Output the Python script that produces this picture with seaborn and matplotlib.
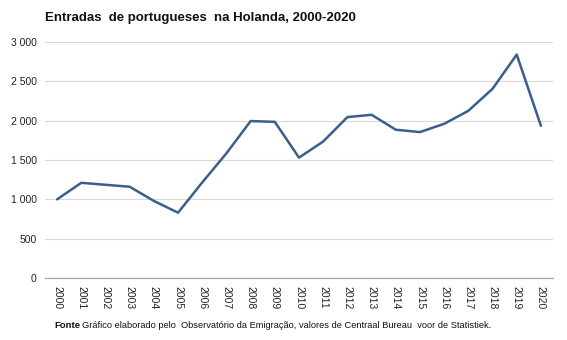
import matplotlib
matplotlib.use("Agg")
import matplotlib.pyplot as plt
import seaborn as sns
import pandas as pd

years = list(range(2000, 2021))
entradas = [1000, 1210, 1185, 1160, 980, 830, 1215, 1585, 1995, 1985, 1530,
            1735, 2045, 2075, 1885, 1855, 1960, 2125, 2405, 2840, 1935]
title = "Entradas  de portugueses  na Holanda, 2000-2020"
fonte_label = "Fonte"
fonte_text = "Gráfico elaborado pelo  Observatório da Emigração, valores de Centraal Bureau  voor de Statistiek."

df = pd.DataFrame({"ano": years, "entradas": entradas})

sns.set_theme(style="white")
plt.rcParams['font.family'] = ['Liberation Sans', 'DejaVu Sans']

fig = plt.figure(figsize=(5.67, 3.40), dpi=100)
ax = fig.add_axes([45/567, 1 - 278/340, 508/567, (278 - 42)/340])

sns.lineplot(data=df, x="ano", y="entradas", ax=ax, color="#3B5F8A", linewidth=1.8)

ax.set_xlim(1999.5, 2020.5)
ax.set_ylim(0, 3000)
ax.set_yticks([0, 500, 1000, 1500, 2000, 2500, 3000])
ax.set_yticklabels(["0", "500", "1 000", "1 500", "2 000", "2 500", "3 000"], fontsize=7.5, color="#222222")
ax.set_xticks(years)
ax.set_xticklabels([str(y) for y in years], rotation=-90, fontsize=7.5, color="#222222")
ax.tick_params(axis="both", length=0, pad=6)
ax.grid(axis="y", color="#D9D9D9", linewidth=0.8)
ax.set_axisbelow(True)
for s in ["top", "right", "left"]:
    ax.spines[s].set_visible(False)
ax.spines["bottom"].set_color("#A6A6A6")
ax.spines["bottom"].set_linewidth(0.9)
ax.set_xlabel("")
ax.set_ylabel("")

fig.text(45/567, 1 - 18/340, title, fontsize=9.5, fontweight="bold", va="center", ha="left", color="#111111")
fig.text(54/567, 1 - 325/340, fonte_label, fontsize=6.8, fontweight="bold", va="center", ha="left", color="#111111")
fig.text(82/567, 1 - 325/340, fonte_text, fontsize=6.7, va="center", ha="left", color="#111111")

fig.savefig("out.png", dpi=100)
